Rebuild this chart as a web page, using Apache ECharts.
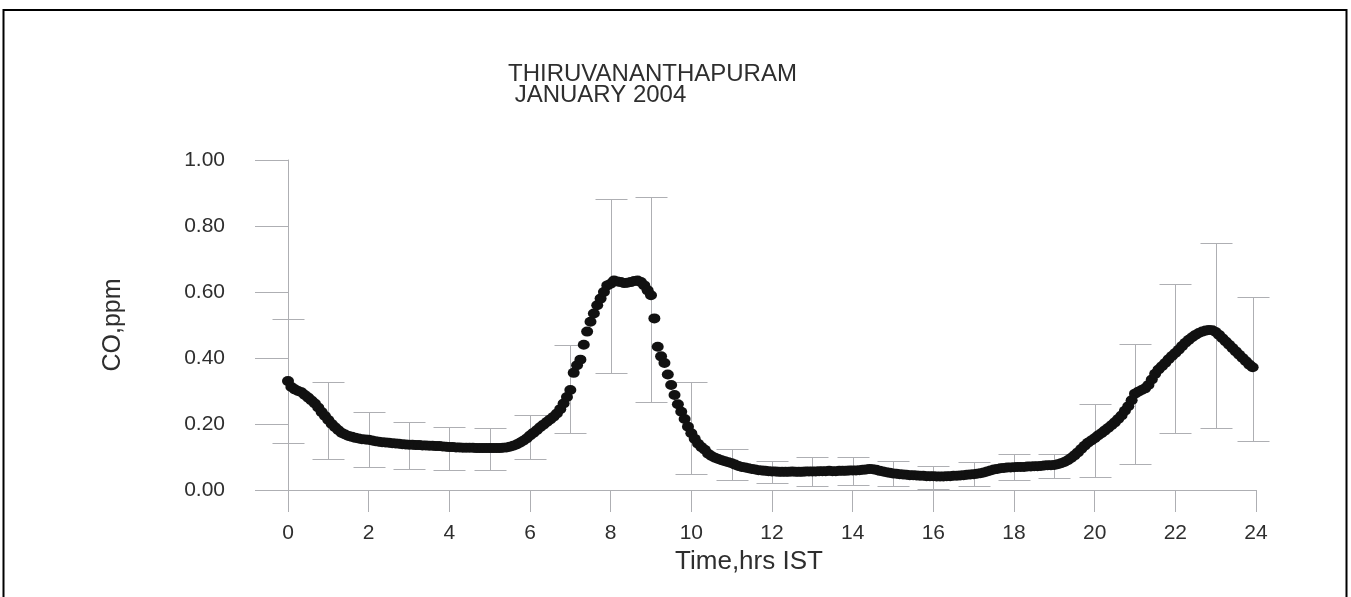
<!DOCTYPE html>
<html><head><meta charset="utf-8">
<script src="https://cdn.jsdelivr.net/npm/echarts@6/dist/echarts.min.js"></script>
<style>html,body{margin:0;padding:0;background:#fff}#c{width:1351px;height:597px}</style>
</head><body><div id="c"></div>
<script>
// ---- data ----
const titleText = 'THIRUVANANTHAPURAM\n JANUARY 2004';
const xAxisName = 'Time,hrs IST';
const yAxisName = 'CO,ppm';
const xTickValues = [0, 2, 4, 6, 8, 10, 12, 14, 16, 18, 20, 22, 24];
const yTickValues = [0, 0.2, 0.4, 0.6, 0.8, 1.0];

// error bars at each hour
const barHours = [0,1,2,3,4,5,6,7,8,9,10,11,12,13,14,15,16,17,18,19,20,21,22,23,23.92];
const barLow  = [0.143,0.094,0.070,0.065,0.060,0.060,0.094,0.172,0.356,0.268,0.050,0.030,0.020,0.012,0.015,0.012,0.004,0.012,0.030,0.035,0.040,0.079,0.172,0.187,0.148];
const barHigh = [0.517,0.326,0.237,0.207,0.192,0.187,0.226,0.440,0.881,0.887,0.326,0.124,0.089,0.099,0.099,0.089,0.074,0.084,0.109,0.109,0.261,0.443,0.625,0.749,0.586];

// 5-minute mean CO (ppm), 00:00 ... 23:55
const sampleMinutes = 5;
const coValues = [
  0.330,0.312,0.305,0.300,0.296,0.288,0.280,0.271,0.262,0.250,0.236,0.224,
  0.212,0.200,0.190,0.181,0.173,0.168,0.164,0.161,0.158,0.156,0.154,0.153,
  0.152,0.150,0.148,0.146,0.145,0.144,0.143,0.142,0.141,0.140,0.139,0.138,
  0.137,0.137,0.136,0.136,0.135,0.135,0.134,0.134,0.133,0.133,0.132,0.131,
  0.130,0.130,0.129,0.129,0.128,0.128,0.128,0.128,0.127,0.127,0.127,0.127,
  0.127,0.127,0.127,0.127,0.128,0.129,0.131,0.134,0.138,0.143,0.149,0.156,
  0.165,0.173,0.181,0.190,0.198,0.206,0.214,0.222,0.232,0.245,0.262,0.282,
  0.303,0.355,0.378,0.395,0.440,0.480,0.510,0.535,0.560,0.580,0.600,0.620,
  0.625,0.635,0.632,0.630,0.627,0.628,0.630,0.633,0.635,0.630,0.620,0.605,
  0.590,0.520,0.434,0.405,0.385,0.350,0.318,0.288,0.260,0.237,0.215,0.192,
  0.172,0.155,0.140,0.130,0.122,0.110,0.103,0.098,0.094,0.090,0.087,0.084,
  0.081,0.077,0.073,0.070,0.068,0.066,0.064,0.062,0.060,0.059,0.058,0.057,
  0.056,0.056,0.055,0.055,0.055,0.055,0.056,0.055,0.055,0.055,0.056,0.056,
  0.056,0.056,0.057,0.057,0.057,0.058,0.057,0.057,0.058,0.058,0.058,0.059,
  0.059,0.059,0.060,0.061,0.062,0.064,0.063,0.061,0.058,0.056,0.054,0.052,
  0.050,0.049,0.048,0.047,0.046,0.045,0.045,0.044,0.043,0.043,0.042,0.042,
  0.042,0.041,0.041,0.041,0.042,0.042,0.043,0.043,0.044,0.045,0.046,0.047,
  0.048,0.049,0.051,0.053,0.056,0.059,0.062,0.064,0.066,0.067,0.068,0.068,
  0.069,0.070,0.070,0.070,0.071,0.071,0.072,0.072,0.073,0.074,0.075,0.075,
  0.076,0.078,0.081,0.085,0.090,0.097,0.105,0.114,0.124,0.134,0.143,0.150,
  0.157,0.165,0.172,0.180,0.188,0.196,0.205,0.215,0.226,0.240,0.254,0.272,
  0.292,0.298,0.303,0.308,0.318,0.335,0.352,0.365,0.375,0.385,0.396,0.406,
  0.415,0.425,0.436,0.446,0.455,0.463,0.470,0.476,0.480,0.483,0.485,0.484,
  0.479,0.470,0.460,0.450,0.440,0.430,0.420,0.410,0.400,0.390,0.380,0.372
];

// ---- build ----
const coData = coValues.map((v, i) => [i * sampleMinutes / 60, v]);
const barData = barHours.map((h, i) => [h, barLow[i], barHigh[i]]);

const axisGray = '#aeafb3';
const textColor = '#2e2e2e';
const font = 'Liberation Sans, Arial, Helvetica, sans-serif';

const chart = echarts.init(document.getElementById('c'), null, {renderer: 'canvas'});
chart.setOption({
  backgroundColor: '#ffffff',
  animation: false,
  title: {
    text: titleText, left: 503, top: 59,
    textStyle: {fontFamily: font, fontSize: 24, fontWeight: 'normal', color: textColor, lineHeight: 21}
  },
  graphic: [{
    type: 'rect', silent: true,
    shape: {x: 3.5, y: 10, width: 1343, height: 640},
    style: {fill: 'none', stroke: '#000', lineWidth: 2}
  }],
  grid: {left: 288, right: 95, top: 160, bottom: 107, containLabel: false},
  xAxis: {
    type: 'value', min: 0, max: 24, interval: 2,
    name: xAxisName, nameLocation: 'middle', nameGap: 53,
    nameTextStyle: {fontFamily: font, fontSize: 26, color: textColor, padding: [0, 46, 0, 0]},
    axisLine: {show: true, lineStyle: {color: axisGray, width: 1}},
    axisTick: {show: true, length: 22, lineStyle: {color: axisGray, width: 1}},
    axisLabel: {fontFamily: font, fontSize: 21, color: textColor, margin: 33,
      formatter: v => xTickValues.includes(v) ? String(v) : ''},
    splitLine: {show: false}
  },
  yAxis: {
    type: 'value', min: 0, max: 1, interval: 0.2,
    name: yAxisName, nameLocation: 'middle', nameGap: 162, nameRotate: 90,
    nameTextStyle: {fontFamily: font, fontSize: 25, color: textColor},
    axisLine: {show: true, lineStyle: {color: axisGray, width: 1}},
    axisTick: {show: true, length: 33, lineStyle: {color: axisGray, width: 1}},
    axisLabel: {fontFamily: font, fontSize: 21, color: textColor, margin: 63,
      formatter: v => yTickValues.some(t => Math.abs(t - v) < 1e-9) ? v.toFixed(2) : ''},
    splitLine: {show: false}
  },
  series: [
    {
      type: 'custom', name: 'error', data: barData, z: 1, silent: true,
      renderItem: function (params, api) {
        const x = api.value(0);
        const pLo = api.coord([x, api.value(1)]);
        const pHi = api.coord([x, api.value(2)]);
        const cx = Math.round(pLo[0]) + 0.5;
        const yl = Math.round(pLo[1]) + 0.5, yh = Math.round(pHi[1]) + 0.5;
        const hw = 16;
        const st = {stroke: axisGray, lineWidth: 1};
        return {type: 'group', children: [
          {type: 'line', shape: {x1: cx, y1: yl, x2: cx, y2: yh}, style: st},
          {type: 'line', shape: {x1: cx - hw, y1: yl, x2: cx + hw, y2: yl}, style: st},
          {type: 'line', shape: {x1: cx - hw, y1: yh, x2: cx + hw, y2: yh}, style: st}
        ]};
      }
    },
    {
      type: 'scatter', name: 'CO', data: coData, z: 3,
      symbol: 'circle', symbolSize: [12, 10],
      itemStyle: {color: '#111111', opacity: 1}
    }
  ]
});
</script></body></html>
